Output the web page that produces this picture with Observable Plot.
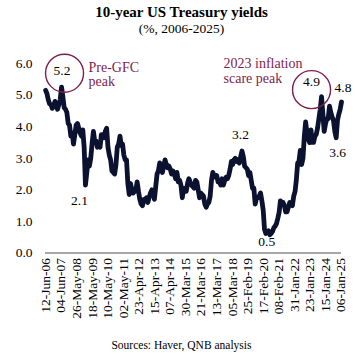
<!DOCTYPE html>
<html><head><meta charset="utf-8">
<script src="https://cdn.jsdelivr.net/npm/d3@7"></script>
<script src="https://cdn.jsdelivr.net/npm/@observablehq/plot@0.6"></script>
<style>
body{margin:0;background:#fff;font-family:"Liberation Serif","Times New Roman",serif;width:363px;color:#000;}
#title{margin-top:3px;font-weight:bold;font-size:15px;line-height:18px;text-align:center;}
#subtitle{font-size:13.5px;line-height:16px;text-align:center;}
#caption{margin-top:11px;font-size:11.5px;line-height:14px;text-align:center;}
svg{display:block}
</style></head><body>
<div id="title">10-year US Treasury yields</div>
<div id="subtitle">(%, 2006-2025)</div>
<div id="chart"></div>
<div id="caption">Sources: Haver, QNB analysis</div>
<script>
// Monthly readings of the 10-year yield (%), mid-month
const y2006 = [5.15, 5.05, 4.85, 4.72, 4.70, 4.58, 4.65]; // Jun-Dec
const y2007 = [4.80, 4.70, 4.55, 4.70, 4.85, 5.25, 4.95, 4.60, 4.55, 4.45, 4.10, 4.05];
const y2008 = [3.70, 3.80, 3.45, 3.75, 4.05, 4.10, 3.95, 3.80, 3.70, 3.90, 3.35, 2.15];
const y2009 = [2.55, 2.95, 2.75, 3.00, 3.45, 3.85, 3.55, 3.55, 3.35, 3.40, 3.35, 3.75];
const y2010 = [3.75, 3.65, 3.85, 3.95, 3.35, 3.10, 2.95, 2.60, 2.55, 2.50, 2.80, 3.35];
const y2011 = [3.45, 3.70, 3.40, 3.45, 3.10, 2.95, 2.95, 2.20, 1.85, 2.20, 2.00, 1.90];
const y2012 = [1.95, 2.00, 2.25, 1.95, 1.70, 1.55, 1.50, 1.70, 1.70, 1.75, 1.60, 1.75];
const y2013 = [1.90, 2.00, 1.95, 1.70, 2.10, 2.50, 2.60, 2.85, 2.75, 2.55, 2.75, 2.95];
const y2014 = [2.80, 2.70, 2.75, 2.65, 2.50, 2.60, 2.50, 2.35, 2.55, 2.25, 2.30, 2.15];
const y2015 = [1.75, 2.05, 1.95, 1.95, 2.20, 2.35, 2.25, 2.15, 2.10, 2.05, 2.30, 2.25];
const y2016 = [2.00, 1.75, 1.90, 1.85, 1.80, 1.55, 1.45, 1.55, 1.60, 1.80, 2.30, 2.55];
const y2017 = [2.45, 2.40, 2.45, 2.25, 2.25, 2.15, 2.35, 2.15, 2.30, 2.40, 2.35, 2.45];
const y2018 = [2.65, 2.90, 2.80, 2.95, 3.00, 2.90, 2.95, 2.85, 3.05, 3.23, 3.05, 2.75];
const y2019 = [2.70, 2.65, 2.45, 2.55, 2.30, 2.05, 2.05, 1.55, 1.75, 1.75, 1.80, 1.90];
const y2020 = [1.65, 1.35, 0.75, 0.62, 0.65, 0.70, 0.58, 0.62, 0.68, 0.80, 0.85, 0.93];
const y2021 = [1.10, 1.30, 1.65, 1.60, 1.60, 1.50, 1.30, 1.30, 1.45, 1.60, 1.55, 1.50];
const y2022 = [1.80, 1.95, 2.30, 2.85, 2.90, 3.25, 2.80, 3.00, 3.70, 4.15, 3.80, 3.60];
const y2023 = [3.50, 3.90, 3.50, 3.50, 3.70, 3.75, 3.95, 4.25, 4.55, 4.95, 4.40, 3.85];
const y2024 = [4.10, 4.25, 4.25, 4.65, 4.45, 4.30, 4.20, 3.85, 3.65, 4.20, 4.40, 4.55];
const y2025 = [4.78]; // Jan

const tickLabels = ["12-Jun-06","04-Jun-07","26-May-08","18-May-09","10-May-10","02-May-11","23-Apr-12","15-Apr-13","07-Apr-14","30-Mar-15","21-Mar-16","13-Mar-17","05-Mar-18","25-Feb-19","17-Feb-20","08-Feb-21","31-Jan-22","23-Jan-23","15-Jan-24","06-Jan-25"];
const yTicks = [0, 1, 2, 3, 4, 5, 6];

const calloutLabels = ["5.2", "2.1", "3.2", "0.5", "4.9", "3.6", "4.8"];
const calloutMonths = ["2007-06", "2008-12", "2018-10", "2020-07", "2023-10", "2024-09", "2025-01"];
const noteTexts = ["Pre-GFC\npeak", "2023 inflation\nscare peak"];
const noteMonths = ["2007-06", "2023-10"];

// ---- build table ----
const yearly = [[2006,5,y2006],[2007,0,y2007],[2008,0,y2008],[2009,0,y2009],[2010,0,y2010],[2011,0,y2011],[2012,0,y2012],[2013,0,y2013],[2014,0,y2014],[2015,0,y2015],[2016,0,y2016],[2017,0,y2017],[2018,0,y2018],[2019,0,y2019],[2020,0,y2020],[2021,0,y2021],[2022,0,y2022],[2023,0,y2023],[2024,0,y2024],[2025,0,y2025]];
const data = yearly.flatMap(([yr, m0, vals]) => vals.map((v, i) => ({date: new Date(Date.UTC(yr, m0 + i, 15)), value: v})));
const ym = d3.utcFormat("%Y-%m");
const pointAt = m => data.find(d => ym(d.date) === m);
const parse = d3.utcParse("%d-%b-%y");
const tickDates = tickLabels.map(parse);

const maroon = "#7d1d4e";
const labelOffsets = [[0.5,-16.5],[-6,15.5],[-1.5,-16.5],[-3,6.5],[-10,-15],[1.5,15],[1.5,-14.5]];
const circleOffsets = [[3,-14],[-10,-7]];
const noteOffsets = [[27,-13,1.0],[-98,-26,1.07]];

const marks = [
  Plot.ruleY([0], {stroke: "#8a8a8a", strokeWidth: 1.5}),
  Plot.line(data, {x: "date", y: "value", stroke: "#0a1230", strokeWidth: 4.8, strokeLinejoin: "round", strokeLinecap: "round"}),
  Plot.axisX({ticks: tickDates, tickFormat: d3.utcFormat("%d-%b-%y"), tickRotate: -90, tickSize: 0, tickPadding: 5, label: null, fontSize: 13.5}),
  Plot.axisY({ticks: yTicks, tickFormat: d => d.toFixed(1), tickSize: 0, tickPadding: 13, label: null, fontSize: 13.5})
];
calloutLabels.forEach((lab, i) => {
  const p = pointAt(calloutMonths[i]);
  marks.push(Plot.text([{...p, lab}], {x: "date", y: "value", text: "lab", dx: labelOffsets[i][0], dy: labelOffsets[i][1], fontSize: 13.5, fill: "#000"}));
});
noteMonths.forEach((m, i) => {
  const p = pointAt(m);
  marks.push(Plot.dot([p], {x: "date", y: "value", r: 19, dx: circleOffsets[i][0], dy: circleOffsets[i][1], stroke: maroon, strokeWidth: 1.4, fill: "none"}));
  marks.push(Plot.text([{...p, t: noteTexts[i]}], {x: "date", y: "value", text: "t", textAnchor: "start", dx: noteOffsets[i][0], dy: noteOffsets[i][1], lineHeight: noteOffsets[i][2], fontSize: 14, fill: maroon}));
});

const chart = Plot.plot({
  width: 363,
  height: 290,
  marginLeft: 45,
  marginRight: 22,
  marginTop: 26,
  marginBottom: 74.5,
  style: {fontFamily: "'Liberation Serif','Times New Roman',serif", fontSize: "13.5px", color: "#000", background: "#fff"},
  x: {type: "utc", domain: [new Date(Date.UTC(2006,5,12)), new Date(Date.UTC(2025,0,15))]},
  y: {domain: [0, 6]},
  marks
});
document.getElementById("chart").appendChild(chart);
</script>
</body></html>
